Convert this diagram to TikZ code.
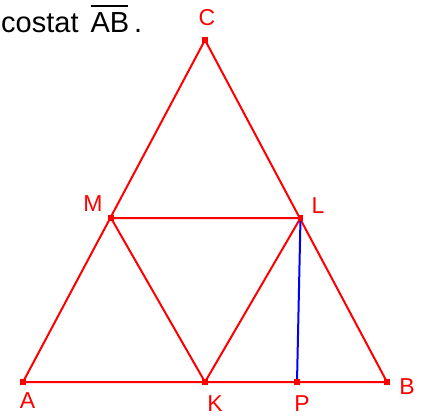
\documentclass[tikz,border=0pt]{standalone}
\usepackage{fontspec}
\setmainfont{Liberation Sans}
\usetikzlibrary{positioning}

\tikzset{
    seg/.style={red, line width=2pt},
    hoehe/.style={blue, line width=2pt},
    punkt/.style={fill=red, minimum size=5.5pt, inner sep=0pt},
    lbl/.style={text=red, inner sep=0pt, font=\fontsize{23}{25}\selectfont}
}

\begin{document}
\begin{tikzpicture}[x=1pt, y=-1pt]
\useasboundingbox (0,0) rectangle (427,416);

% --- Punkte ---
\coordinate (A) at (23,382);
\coordinate (B) at (387,382);
\coordinate (C) at (205,40);
\coordinate (M) at (111,218);
\coordinate (L) at (300.5,218);
\coordinate (K) at (205,382);
\coordinate (P) at (297,382);

% --- Dreieck und Mittellinien ---
\draw[seg] (A) -- (B) -- (C) -- cycle;
\draw[seg] (M) -- (L) -- (K) -- cycle;

% --- Lot von L ---
\draw[hoehe] (L) -- (P);

% --- Markierungen ---
\foreach \p in {A,B,C,M,L,K,P}
    \node[punkt] at (\p) {};

% --- Beschriftungen ---
\node[lbl] (lC) at (207,18) {C};
\node[lbl] (lM) at (93,203.5) {M};
\node[lbl] (lL) at (318,206) {L};
\node[lbl] (lA) at (27.5,401) {A};
\node[lbl] (lK) at (215,403.5) {K};
\node[lbl] (lP) at (302,403.5) {P};
\node[lbl] (lB) at (407,387) {B};

% --- Text oben ---
\node[anchor=base west, inner sep=0pt, font=\fontsize{29}{31}\selectfont] (txt) at (1,32)
    {costat\hspace{12pt}\rlap{\rule[25.5pt]{37pt}{1.3pt}}AB\hspace{5pt}.};

\end{tikzpicture}
\end{document}
